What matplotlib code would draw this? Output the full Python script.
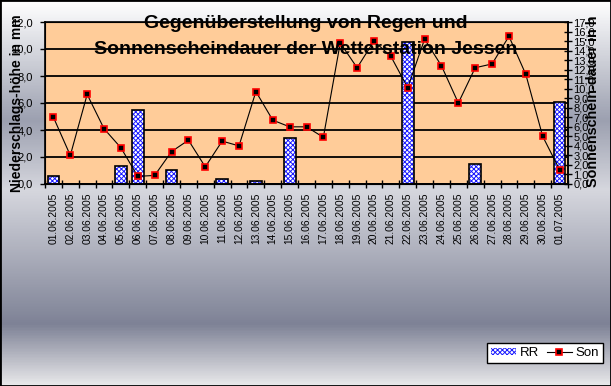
import numpy as np
import matplotlib
matplotlib.use('Agg')
import matplotlib.pyplot as plt
from matplotlib.patches import Rectangle, Patch
from matplotlib.lines import Line2D
from matplotlib.colors import LinearSegmentedColormap

plt.rcParams['font.family'] = ['Liberation Sans', 'DejaVu Sans']
plt.rcParams['hatch.linewidth'] = 0.7

# data
dates = ['01.06.2005', '02.06.2005', '03.06.2005', '04.06.2005', '05.06.2005',
         '06.06.2005', '07.06.2005', '08.06.2005', '09.06.2005', '10.06.2005',
         '11.06.2005', '12.06.2005', '13.06.2005', '14.06.2005', '15.06.2005',
         '16.06.2005', '17.06.2005', '18.06.2005', '19.06.2005', '20.06.2005',
         '21.06.2005', '22.06.2005', '23.06.2005', '24.06.2005', '25.06.2005',
         '26.06.2005', '27.06.2005', '28.06.2005', '29.06.2005', '30.06.2005',
         '01.07.2005']
rr = [0.6, 0, 0, 0, 1.3, 5.5, 0, 1.0, 0, 0,
      0.4, 0, 0.2, 0, 3.4, 0, 0, 0, 0, 0,
      0, 10.5, 0, 0, 0, 1.5, 0, 0, 0, 0,
      6.1]
son = [7.0, 3.0, 9.4, 5.8, 3.8, 0.8, 0.9, 3.4, 4.6, 1.8,
       4.5, 4.0, 9.7, 6.7, 6.0, 6.0, 4.9, 14.8, 12.2, 15.0,
       13.4, 10.1, 15.2, 12.4, 8.5, 12.2, 12.6, 15.5, 11.5, 5.0,
       1.5]
rr_ticks = [0, 2, 4, 6, 8, 10, 12]
son_ticks = list(range(0, 18))

W, H = 611, 386
fig = plt.figure(figsize=(W / 100, H / 100), dpi=100)

# background gradient
bg = fig.add_axes([0, 0, 1, 1], zorder=-5)
stops = [(0.0, '#ffffff'), (120 / H, '#9ca0b0'), (190 / H, '#d6d7de'),
         (325 / H, '#7e8296'), (1.0, '#e8e8ea')]
cm = LinearSegmentedColormap.from_list('bg', stops)
grad = np.linspace(0, 1, 400).reshape(-1, 1)
bg.imshow(grad, aspect='auto', cmap=cm, extent=[0, 1, 0, 1], origin='upper')
bg.set_axis_off()

ax = fig.add_axes([45 / W, 1 - 184 / H, (568 - 45) / W, (184 - 22) / H])
ax.set_facecolor('#ffcc99')
x = np.arange(len(dates))

ax.bar(x, rr, width=0.7, color='white', edgecolor='#1a1aff', hatch='xxxxxxx',
       linewidth=0, zorder=2)
ax.bar(x, rr, width=0.7, color='none', edgecolor='black', linewidth=1.2, zorder=3)

ax.set_xlim(-0.5, len(dates) - 0.5)
ax.set_ylim(0, 12)
ax.set_yticks(rr_ticks)
ax.set_yticklabels([f'{v:.1f}'.replace('.', ',') for v in rr_ticks], fontsize=8)
ax.yaxis.grid(True, color='black', linewidth=1.3)
ax.set_axisbelow(True)
ax.tick_params(axis='y', direction='out', length=3.6, width=1, pad=5)

ax.set_xticks(x)
ax.set_xticklabels(dates, rotation=90, fontsize=7.4)
ax.set_xticks(np.arange(-0.5, len(dates)), minor=True)
ax.tick_params(axis='x', which='major', length=0, pad=6)
ax.tick_params(axis='x', which='minor', direction='inout', length=6, width=1)
for s in ax.spines.values():
    s.set_linewidth(1.2)

ax2 = ax.twinx()
ax2.plot(x, son, color='black', linewidth=0.8, marker='s', markersize=5,
         markerfacecolor='black', markeredgecolor='red', markeredgewidth=1.2,
         zorder=5)
ax2.set_ylim(0, 17)
ax2.set_yticks(son_ticks)
ax2.set_yticklabels([f'{v:.1f}'.replace('.', ',') for v in son_ticks], fontsize=8)
ax2.tick_params(axis='y', direction='inout', length=6, width=1, pad=1)
ax2.spines['right'].set_linewidth(1.2)

fig.text(17 / W, 1 - 103 / H, 'Niederschlags-höhe in mm', rotation=90,
         ha='center', va='center', fontsize=10, fontweight='bold')
fig.text(593 / W, 1 - 101 / H, 'Sonnenschein-dauer in h', rotation=90,
         ha='center', va='center', fontsize=10.4, fontweight='bold')

fig.text(306 / W, 1 - 24 / H, 'Gegenüberstellung von Regen und',
         ha='center', va='center', fontsize=14, fontweight='bold', zorder=10)
fig.text(306 / W, 1 - 50 / H, 'Sonnenscheindauer der Wetterstation Jessen',
         ha='center', va='center', fontsize=14, fontweight='bold', zorder=10)

handles = [Patch(facecolor='white', edgecolor='#1a1aff', hatch='xxxxxxx', linewidth=0),
           Line2D([], [], color='black', linewidth=0.8, marker='s', markersize=5,
                  markerfacecolor='black', markeredgecolor='red', markeredgewidth=1.2)]
leg = fig.legend(handles, ['RR', 'Son'], loc='center', ncol=2,
                 bbox_to_anchor=(545 / W, 1 - 353 / H), fontsize=9.5,
                 frameon=True, fancybox=False, edgecolor='black',
                 borderpad=0.3, handlelength=1.9, handleheight=0.5,
                 handletextpad=0.3, columnspacing=0.6)
leg.get_frame().set_linewidth(1)
leg.get_frame().set_facecolor('white')
leg.get_frame().set_alpha(1)

fig.patches.append(Rectangle((0, 0), 1, 1, transform=fig.transFigure,
                             fill=False, edgecolor='black', linewidth=2))

fig.savefig('out.png', dpi=100)
